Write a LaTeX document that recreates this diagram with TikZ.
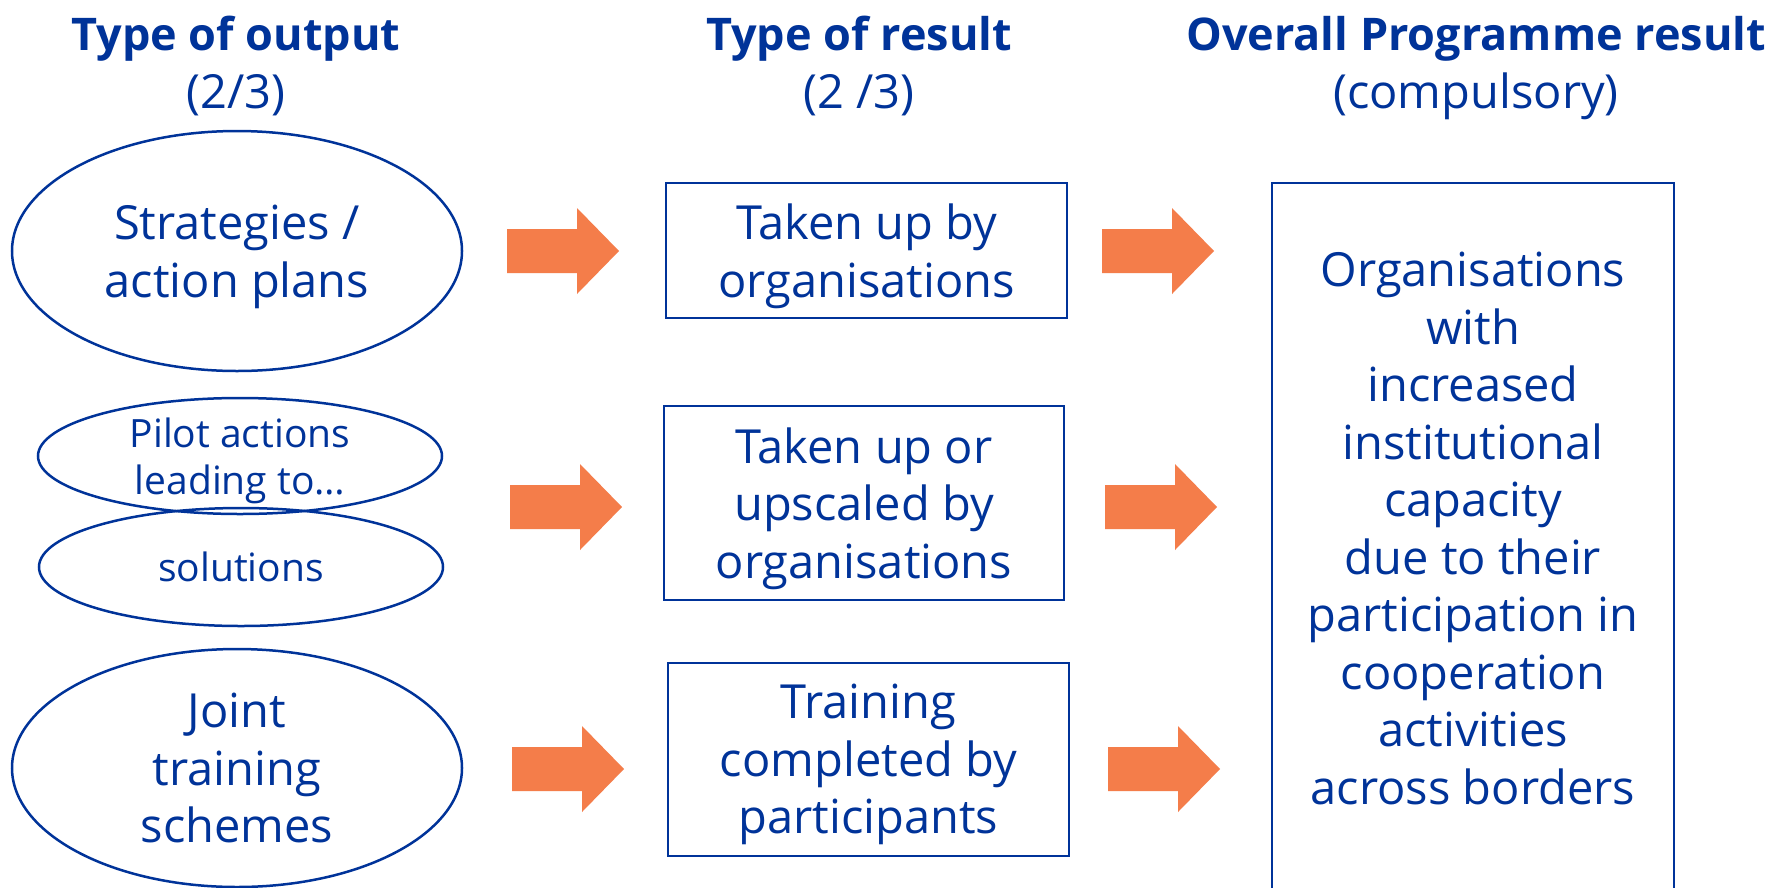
\documentclass[tikz,border=0pt]{standalone}
\usepackage{fontspec}
\setmainfont{Open Sans}
\usetikzlibrary{shapes.geometric}
\definecolor{eublue}{RGB}{0,51,153}
\definecolor{arroworange}{RGB}{244,125,74}
\begin{document}
\begin{tikzpicture}[x=1pt,y=-1pt,
  txt/.style={text=eublue, align=center, text depth=0pt, font=\fontsize{47}{57.5}\selectfont},
  small/.style={font=\fontsize{39}{47}\selectfont},
  oval/.style={ellipse, draw=eublue, line width=2.5pt, inner sep=0pt, txt},
  box/.style={rectangle, draw=eublue, line width=2pt, inner sep=0pt, txt},
  hbold/.style={text=eublue, anchor=base, inner sep=0pt, font=\fontsize{45}{57}\selectfont\bfseries},
  hreg/.style={text=eublue, anchor=base, inner sep=0pt, font=\fontsize{47}{57}\selectfont},
  blockarrow/.pic={\fill[arroworange] (0,-22) -- (70,-22) -- (70,-43) -- (112,0) -- (70,43) -- (70,22) -- (0,22) -- cycle;}
]
\clip (0,0) rectangle (1785,887);
\fill[white] (0,0) rectangle (1785,887);

% headers
\node[hbold] (h1) at (236,50) {Type of output};
\node[hreg] (h1b) at (236,108) {(2/3)};
\node[hbold] (h2) at (859,50) {Type of result};
\node[hreg] (h2b) at (859,108) {(2 /3)};
\node[hbold] (h3) at (1476,50) {Overall Programme result};
\node[hreg] (h3b) at (1476,108) {(compulsory)};

% outputs
\node[oval, minimum width=450, minimum height=240] (o1) at (237,251) {Strategies /\\action plans};
\node[oval, small, minimum width=404, minimum height=116] (o2) at (240,456) {Pilot actions\\leading to…};
\node[oval, small, minimum width=404, minimum height=118] (o3) at (241,567) {solutions};
\node[oval, minimum width=450, minimum height=238] (o4) at (237,768) {Joint\\training\\schemes};

% results
\node[box, minimum width=401, minimum height=135] (r1) at (866.5,250.5) {Taken up by\\organisations};
\node[box, minimum width=400, minimum height=194] (r2) at (864,503) {Taken up or\\upscaled by\\organisations};
\node[box, minimum width=401, minimum height=193] (r3) at (868.5,759) {Training\\completed by\\participants};

% overall result
\node[box, minimum width=402, minimum height=740] (p) at (1473,553) {};
\node[txt, inner sep=0pt] (ptext) at (1473,528) {Organisations\\with\\increased\\institutional\\capacity\\due to their\\participation in\\cooperation\\activities\\across borders};

% arrows
\pic (a1) at (507,251) {blockarrow};
\pic (a2) at (1102,251) {blockarrow};
\pic (a3) at (510,507) {blockarrow};
\pic (a4) at (1105,507) {blockarrow};
\pic (a5) at (512,769) {blockarrow};
\pic (a6) at (1108,769) {blockarrow};
\end{tikzpicture}
\end{document}
